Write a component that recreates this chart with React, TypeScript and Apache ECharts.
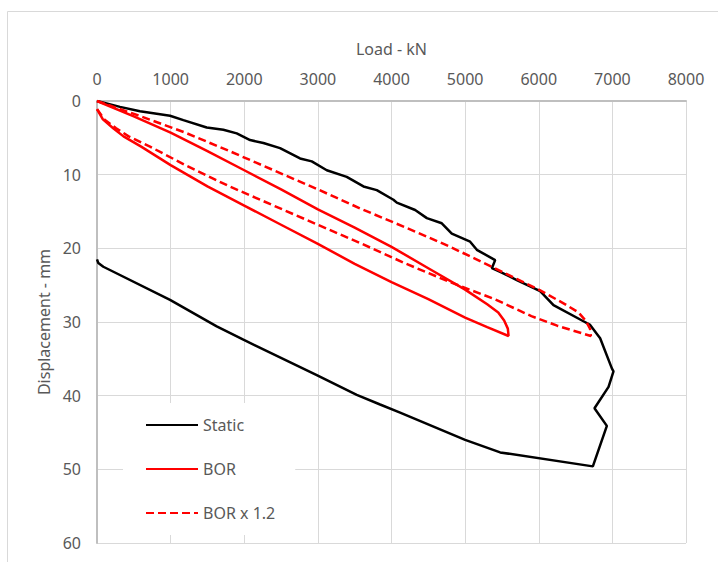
import React, { useEffect, useRef } from "react";
import * as echarts from "echarts";

// Load (kN), Displacement (mm)
const staticLoad = [0, 312, 584, 992, 1173, 1490, 1716, 1898, 2079, 2260, 2486, 2758, 2917, 3121, 3392, 3619, 3800, 4026, 4072, 4321, 4480, 4683, 4819, 5068, 5159, 5408, 5363, 5476, 5702, 6019, 6200, 6607, 6698, 6834, 6993, 7015, 6948, 6757, 6925, 6735, 5476, 5000, 4117, 3845, 3528, 2985, 1988, 1626, 992, 86, 18, 0];
const staticDisp = [0, 0.8, 1.4, 2.0, 2.6, 3.6, 3.9, 4.4, 5.3, 5.7, 6.4, 7.8, 8.2, 9.4, 10.3, 11.6, 12.1, 13.4, 13.8, 14.8, 15.9, 16.6, 18.0, 19.1, 20.2, 21.6, 22.7, 23.2, 24.3, 25.8, 27.7, 29.9, 30.4, 32.2, 36.3, 36.7, 38.8, 41.7, 44.1, 49.6, 47.7, 46.0, 42.3, 41.2, 39.9, 37.2, 32.4, 30.6, 27.0, 22.5, 22.0, 21.5];

const borLoad = [0, 500, 1000, 1500, 2000, 2500, 3000, 3500, 4000, 4500, 5000, 5300, 5450, 5530, 5580, 5590, 5300, 5000, 4500, 4000, 3500, 3000, 2500, 2000, 1500, 1000, 600, 360, 220, 80, 0];
const borDisp = [0, 2.1, 4.3, 6.8, 9.4, 12.0, 14.7, 17.2, 19.8, 22.7, 25.6, 27.6, 28.7, 29.8, 30.9, 31.9, 30.7, 29.4, 26.9, 24.6, 22.1, 19.4, 16.8, 14.2, 11.6, 8.7, 6.2, 4.8, 3.7, 2.5, 1.1];

const bor12Load = [0, 600, 1200, 1800, 2400, 3000, 3600, 4200, 4800, 5400, 6000, 6360, 6540, 6636, 6696, 6708, 6250, 5900, 5400, 4800, 4200, 3600, 3000, 2400, 1800, 1200, 720, 430, 260, 100, 0];
const bor12Disp = [0, 2.1, 4.3, 6.8, 9.4, 12.0, 14.7, 17.2, 19.8, 22.7, 25.6, 27.6, 28.7, 29.8, 30.9, 31.9, 30.5, 29.2, 26.9, 24.6, 22.1, 19.4, 16.8, 14.2, 11.6, 8.7, 6.2, 4.8, 3.7, 2.5, 1.1];

const seriesNames = ["Static", "BOR", "BOR x 1.2"];

const pairs = (xs: number[], ys: number[]) => xs.map((x, i) => [x, ys[i]]);

const FONT = "Noto Sans";
const TXT = "#595959";

export default function App() {
  const ref = useRef<HTMLDivElement>(null);
  useEffect(() => {
    if (!ref.current) return;
    const chart = echarts.init(ref.current, undefined, { renderer: "svg" });
    chart.setOption({
      animation: false,
      backgroundColor: "#ffffff",
      textStyle: { fontFamily: FONT },
      graphic: [
        {
          type: "rect",
          shape: { x: 7.5, y: 11.5, width: 720, height: 560 },
          style: { fill: "none", stroke: "#d9d9d9", lineWidth: 1 },
          silent: true,
        },
      ],
      grid: { left: 97, top: 101, width: 589, height: 442, containLabel: false },
      legend: {
        orient: "vertical",
        left: 123,
        top: 403,
        padding: [14, 20, 14, 22],
        itemGap: 28,
        itemWidth: 52,
        itemHeight: 14,
        backgroundColor: "#ffffff",
        itemStyle: { opacity: 0 },
        textStyle: { color: TXT, fontSize: 16, fontFamily: FONT },
        data: seriesNames,
      },
      xAxis: {
        type: "value",
        position: "top",
        min: 0,
        max: 8000,
        interval: 1000,
        name: "Load - kN",
        nameLocation: "middle",
        nameGap: 44,
        nameTextStyle: { color: TXT, fontSize: 16, fontFamily: FONT },
        axisLine: { show: true, onZero: false, lineStyle: { color: "#bfbfbf", width: 2 } },
        axisTick: { show: false },
        axisLabel: { color: TXT, fontSize: 16, fontFamily: FONT, margin: 14, formatter: (v: number) => String(v) },
        splitLine: { show: true, lineStyle: { color: "#d9d9d9", width: 1 } },
      },
      yAxis: {
        type: "value",
        inverse: true,
        min: 0,
        max: 60,
        interval: 10,
        name: "Displacement - mm",
        nameLocation: "middle",
        nameGap: 44,
        nameRotate: 90,
        nameTextStyle: { color: TXT, fontSize: 16, fontFamily: FONT },
        axisLine: { show: true, onZero: false, lineStyle: { color: "#bfbfbf", width: 2 } },
        axisTick: { show: false },
        axisLabel: { color: TXT, fontSize: 16, fontFamily: FONT, margin: 16, formatter: (v: number) => String(v) },
        splitLine: { show: true, lineStyle: { color: "#d9d9d9", width: 1 } },
      },
      series: [
        {
          name: seriesNames[0],
          type: "line",
          data: pairs(staticLoad, staticDisp),
          symbol: "none",
          lineStyle: { color: "#000000", width: 2.5 },
          itemStyle: { color: "#000000" },
        },
        {
          name: seriesNames[1],
          type: "line",
          data: pairs(borLoad, borDisp),
          symbol: "none",
          lineStyle: { color: "#ff0000", width: 2.5 },
          itemStyle: { color: "#ff0000" },
        },
        {
          name: seriesNames[2],
          type: "line",
          data: pairs(bor12Load, bor12Disp),
          symbol: "none",
          lineStyle: { color: "#ff0000", width: 2.5, type: [8, 4] },
          itemStyle: { color: "#ff0000" },
        },
      ],
    });
    return () => chart.dispose();
  }, []);
  return (
    <div
      ref={ref}
      style={{ position: "fixed", left: 0, top: 0, width: 718, height: 562 }}
    />
  );
}
